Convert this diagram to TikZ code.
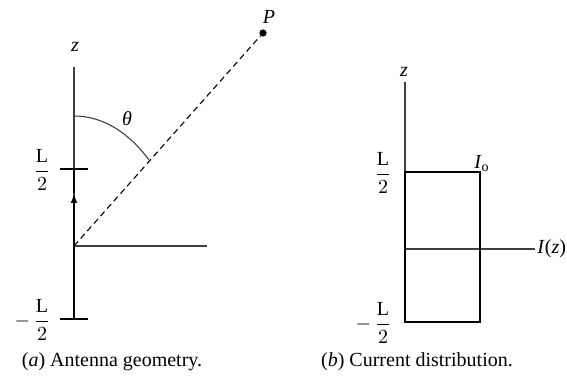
\documentclass[tikz,border=0pt]{standalone}
\usepackage{amsmath}
\usepackage{fontspec}
\setmainfont{Liberation Serif}
\usetikzlibrary{arrows.meta,positioning}

\begin{document}
\begin{tikzpicture}[
    x=0.5pt, y=-0.5pt,
    >=Latex,
    axis/.style={draw=black!75, line width=0.55pt},
    wire/.style={draw=black, line width=1.2pt},
    tick/.style={draw=black, line width=0.6pt},
    ray/.style={draw=black, line width=0.55pt, dash pattern=on 3pt off 2pt},
    every node/.style={font=\normalsize, inner sep=1pt}
]
\useasboundingbox (0,0) rectangle (567,378);

% (a) antenna geometry
\coordinate (o)    at (74,246);
\coordinate (ztop) at (74,67);
\coordinate (xend) at (207,246);
\coordinate (top)  at (74,169);
\coordinate (bot)  at (74,319);
\coordinate (tip)  at (74,193);
\coordinate (arcA) at (74,116);
\coordinate (arcB) at (149,160);
\node[circle,fill=black,inner sep=0pt,minimum size=3.6pt] (p) at (263,33) {};

\draw[axis] (ztop) -- (o) -- (xend);
\draw[ray] (o) -- (p);
\draw[wire,-{Latex[length=5pt,width=3.4pt]}] (bot) -- (tip);
\draw[wire] (tip) -- (top);
\draw[tick] (60,169) -- (88,169);
\draw[tick] (60,319) -- (88,319);
\draw[axis] (arcA) .. controls (104,116) and (130,134) .. (arcB);

\node (zA) at (75,47) {\textit{z}};
\node (pl) at (269,17) {\textit{P}};
\node (th) at (127,119) {\textit{θ}};
\node (hA) at (42,170) {$\dfrac{\mathrm{L}}{2}$};
\node[anchor=east] (mA) at (53,320) {$-\,\dfrac{\mathrm{L}}{2}$};
\node (capA) at (112,362) {(\textit{a}) Antenna geometry.};

% (b) current distribution
\coordinate (o2)   at (405,249);
\coordinate (z2)   at (405,82);
\coordinate (iend) at (535,249);

\draw[axis] (z2) -- (o2) -- (iend);
\draw[wire,line width=0.9pt] (405,172) rectangle (480,322);

\node (zB) at (404,72) {\textit{z}};
\node (io) at (482,164) {\textit{I}\textsubscript{o}};
\node[anchor=west,inner sep=0pt] (iz) at (537,249) {\textit{I}(\textit{z})};
\node (hB) at (383,173) {$\dfrac{\mathrm{L}}{2}$};
\node[anchor=east] (mB) at (394,323) {$-\,\dfrac{\mathrm{L}}{2}$};
\node (capB) at (417,362) {(\textit{b}) Current distribution.};

\end{tikzpicture}
\end{document}
